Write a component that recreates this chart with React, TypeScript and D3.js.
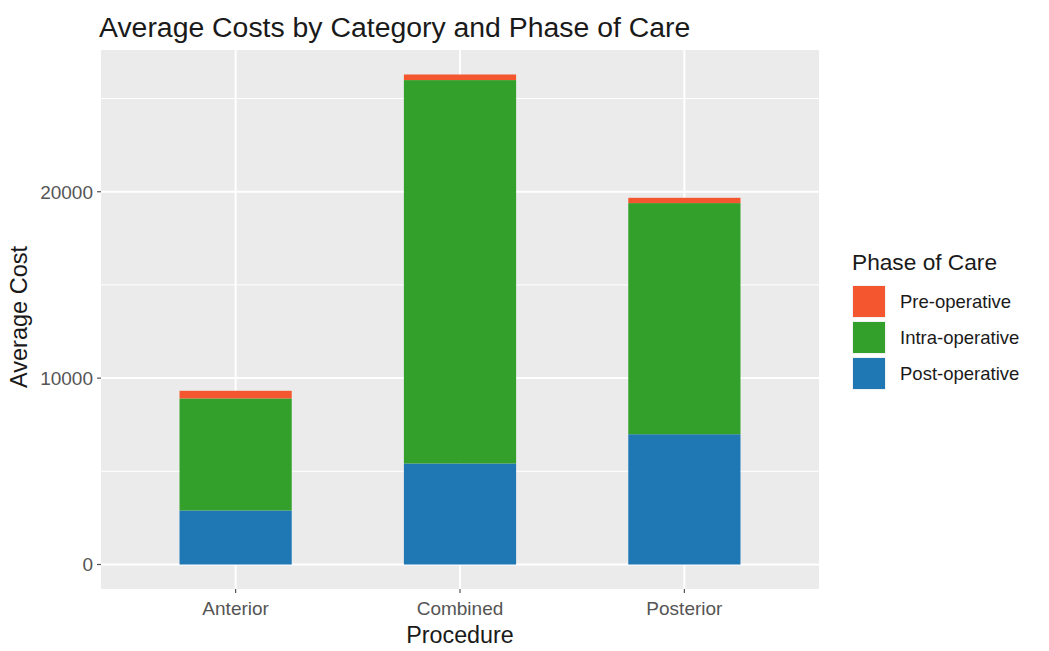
import { useMemo } from 'react';
import * as d3 from 'd3';

const procedures = ['Anterior', 'Combined', 'Posterior'];
const phases = ['Post-operative', 'Intra-operative', 'Pre-operative'];
const legendOrder = ['Pre-operative', 'Intra-operative', 'Post-operative'];
const postOperative = [2900, 5420, 6990];
const intraOperative = [6010, 20570, 12400];
const preOperative = [410, 300, 285];
const yTicks = [0, 10000, 20000];
const yMinor = [5000, 15000, 25000];

const phaseColors: Record<string, string> = {
	'Pre-operative': '#F4572F',
	'Intra-operative': '#33A02C',
	'Post-operative': '#1F78B4',
};

const W = 1049;
const H = 651;
const panel = { left: 101, right: 819, top: 50, bottom: 589 };
const font = '"Liberation Sans", Arial, sans-serif';

const App = () => {
	const rows = useMemo(
		() =>
			procedures.map((p, i) => ({
				procedure: p,
				'Post-operative': postOperative[i],
				'Intra-operative': intraOperative[i],
				'Pre-operative': preOperative[i],
			})),
		[]
	);

	const stacked = d3.stack<any>().keys(phases)(rows);
	const maxTotal = d3.max(rows, (r) => r['Post-operative'] + r['Intra-operative'] + r['Pre-operative']) ?? 0;
	const pad = maxTotal * 0.05;

	const y = d3
		.scaleLinear()
		.domain([-pad, maxTotal + pad])
		.range([panel.bottom, panel.top]);

	const x = d3
		.scalePoint<string>()
		.domain(procedures)
		.range([panel.left, panel.right])
		.padding(0.6);
	const barW = x.step() * 0.5;

	return (
		<svg
			width={W}
			height={H}
			style={{ position: 'absolute', left: 0, top: 0, background: '#fff' }}
			fontFamily={font}
		>
			<text x={99} y={37} fontSize={28.4} fill='#1a1a1a'>
				Average Costs by Category and Phase of Care
			</text>

			<rect
				x={panel.left}
				y={panel.top}
				width={panel.right - panel.left}
				height={panel.bottom - panel.top}
				fill='#EBEBEB'
			/>
			{yMinor.map((t) => (
				<line key={'m' + t} x1={panel.left} x2={panel.right} y1={y(t)} y2={y(t)} stroke='#fff' strokeWidth={1} />
			))}
			{yTicks.map((t) => (
				<line key={'g' + t} x1={panel.left} x2={panel.right} y1={y(t)} y2={y(t)} stroke='#fff' strokeWidth={2} />
			))}
			{procedures.map((p) => (
				<line key={'v' + p} x1={x(p)} x2={x(p)} y1={panel.top} y2={panel.bottom} stroke='#fff' strokeWidth={2} />
			))}

			{stacked.map((layer) => (
				<g key={layer.key} fill={phaseColors[layer.key]}>
					{layer.map((d, i) => (
						<rect
							key={i}
							x={(x(procedures[i]) ?? 0) - barW / 2}
							y={y(d[1])}
							width={barW}
							height={y(d[0]) - y(d[1])}
						/>
					))}
				</g>
			))}

			{yTicks.map((t) => (
				<g key={'yt' + t}>
					<line x1={panel.left - 4} x2={panel.left} y1={y(t)} y2={y(t)} stroke='#555' strokeWidth={1.2} />
					<text
						x={panel.left - 8}
						y={y(t)}
						dy='0.36em'
						textAnchor='end'
						fontSize={19}
						fill='#555'
					>
						{t}
					</text>
				</g>
			))}
			{procedures.map((p) => (
				<g key={'xt' + p}>
					<line x1={x(p)} x2={x(p)} y1={panel.bottom} y2={panel.bottom + 4} stroke='#555' strokeWidth={1.2} />
					<text x={x(p)} y={615} textAnchor='middle' fontSize={19} fill='#555'>
						{p}
					</text>
				</g>
			))}

			<text
				x={(panel.left + panel.right) / 2}
				y={643}
				textAnchor='middle'
				fontSize={23.3}
				fill='#1a1a1a'
			>
				Procedure
			</text>
			<text
				transform={`translate(27, 317) rotate(-90)`}
				textAnchor='middle'
				fontSize={23.5}
				fill='#1a1a1a'
			>
				Average Cost
			</text>

			<g transform='translate(852, 0)'>
				<text x={0} y={270} fontSize={22.7} fill='#1a1a1a'>
					Phase of Care
				</text>
				{legendOrder.map((k, i) => (
					<g key={k} transform={`translate(0, ${285 + i * 36})`}>
						<rect width={34} height={33} fill='#F2F2F2' />
						<rect x={1} y={1} width={32} height={31} fill={phaseColors[k]} />
						<text x={48} y={16.5} dy='0.36em' fontSize={18.5} fill='#1a1a1a'>
							{k}
						</text>
					</g>
				))}
			</g>
		</svg>
	);
};

export default App;
